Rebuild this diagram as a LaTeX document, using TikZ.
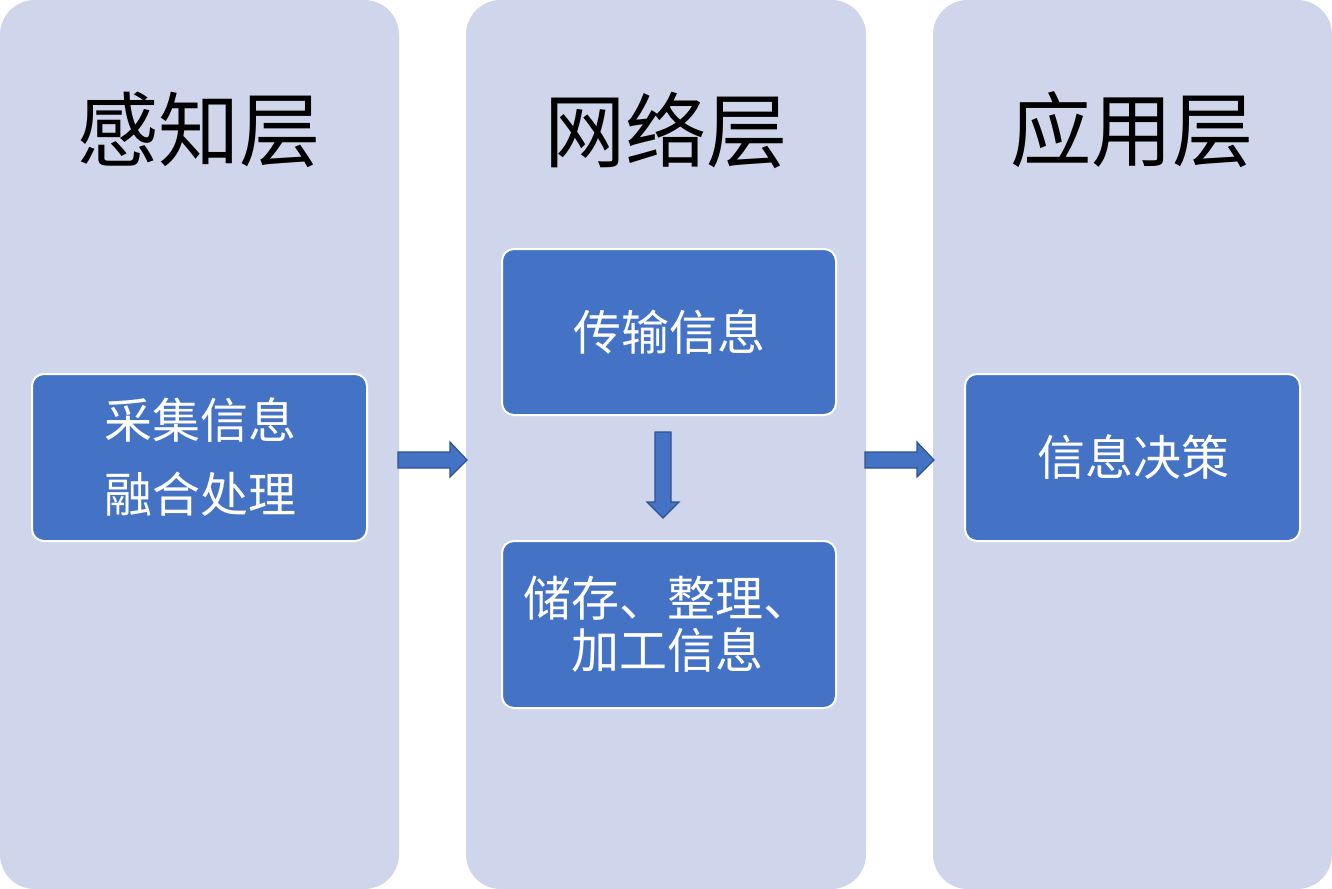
\documentclass[tikz,border=0pt]{standalone}
\usepackage{fontspec}
\setmainfont{Noto Sans CJK SC}
\begin{document}
\begin{tikzpicture}[x=0.75pt,y=-0.75pt,
  col/.style={fill=colbg,draw=none,rounded corners=26pt},
  blk/.style={fill=boxblue,draw=white,line width=1.5pt,rounded corners=9pt},
  ttl/.style={font=\fontsize{61}{70}\selectfont,text=black},
  btxt/.style={font=\fontsize{36}{40}\selectfont,text=white,align=center},
  barrow/.style={fill=boxblue,draw=arrowline,line width=0.9pt,line join=miter}]
\definecolor{colbg}{HTML}{CFD5EA}
\definecolor{boxblue}{HTML}{4472C4}
\definecolor{arrowline}{HTML}{2F528F}
\useasboundingbox (0,0) rectangle (1332,889);
% columns
\path[col] (0,0) rectangle (399,889);
\path[col] (466,0) rectangle (866,889);
\path[col] (933,0) rectangle (1332,889);
% titles
\node[ttl] (t1) at (199,130) {感知层};
\node[ttl] (t2) at (666,130) {网络层};
\node[ttl] (t3) at (1132,130) {应用层};
% boxes
\draw[blk] (32,374) rectangle (367,541);
\node[btxt,font=\fontsize{36}{55}\selectfont] (b1) at (200,457) {采集信息\\融合处理};
\draw[blk] (502,249) rectangle (836,415);
\node[btxt] (b2) at (669,332) {传输信息};
\draw[blk] (502,541) rectangle (836,708);
\node[btxt,font=\fontsize{36}{39}\selectfont] (b3) at (667,624) {储存、整理、\\加工信息};
\draw[blk] (965,374) rectangle (1300,541);
\node[btxt] (b4) at (1133,457) {信息决策};
% block arrows
\draw[barrow] (398,452) -- (450,452) -- (450,442) -- (467,460) -- (450,477) -- (450,468) -- (398,468) -- cycle;
\draw[barrow] (865,452) -- (917,452) -- (917,442) -- (934,460) -- (917,477) -- (917,468) -- (865,468) -- cycle;
\draw[barrow] (655,432) -- (671,432) -- (671,502) -- (679,502) -- (663,518) -- (647,502) -- (655,502) -- cycle;
\end{tikzpicture}
\end{document}
